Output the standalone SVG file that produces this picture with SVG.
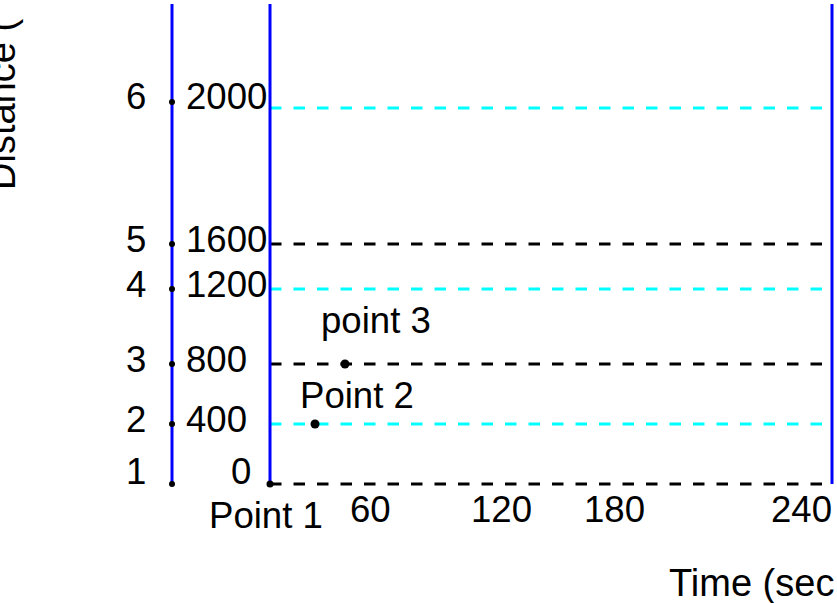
<svg xmlns="http://www.w3.org/2000/svg" width="837" height="603" viewBox="0 0 837 603">
<style>
text{font-family:"Liberation Sans",Arial,sans-serif;font-size:36.6px;fill:#000}
.ax{font-size:38px}
.blue{stroke:#0000ff;stroke-width:3;fill:none}
.dc{stroke:#00ffff;stroke-width:3;stroke-dasharray:11.5 12;fill:none}
.dk{stroke:#000;stroke-width:3;stroke-dasharray:11.5 12;fill:none}
.sd{fill:#000}
</style>
<rect width="837" height="603" fill="#fff"/>
<g id="connectors">
<line class="dc" x1="270" y1="108" x2="832" y2="108"/>
<line class="dk" x1="270" y1="244" x2="832" y2="244"/>
<line class="dc" x1="270" y1="289" x2="832" y2="289"/>
<line class="dk" x1="270" y1="364" x2="832" y2="364"/>
<line class="dc" x1="270" y1="424" x2="832" y2="424"/>
<line class="dk" x1="270" y1="484" x2="832" y2="484"/>
<line class="blue" x1="172" y1="4" x2="172" y2="484"/>
<line class="blue" x1="270" y1="4" x2="270" y2="484"/>
<line class="blue" x1="832" y1="4" x2="832" y2="484"/>
</g>
<g id="left-dots">
<circle class="sd" cx="172" cy="102" r="3"/>
<circle class="sd" cx="172" cy="244" r="3"/>
<circle class="sd" cx="172" cy="289" r="3"/>
<circle class="sd" cx="172" cy="364" r="3"/>
<circle class="sd" cx="172" cy="424" r="3"/>
<circle class="sd" cx="172" cy="484" r="3"/>
</g>
<g id="point1">
<circle class="sd" cx="270" cy="484" r="3.5"/>
<text x="209" y="528">Point 1</text>
</g>
<g id="point2">
<circle class="sd" cx="315" cy="424" r="4.5"/>
<text x="300" y="408">Point 2</text>
</g>
<g id="point3">
<circle class="sd" cx="345" cy="364" r="4.5"/>
<text x="321" y="333">point 3</text>
</g>
<g id="index-labels">
<text x="126" y="109">6</text>
<text x="126" y="252">5</text>
<text x="126" y="297">4</text>
<text x="126" y="372">3</text>
<text x="126" y="432">2</text>
<text x="126" y="484">1</text>
</g>
<g id="distance-labels">
<text x="186" y="109">2000</text>
<text x="186" y="252">1600</text>
<text x="186" y="297">1200</text>
<text x="186" y="372">800</text>
<text x="186" y="432">400</text>
<text x="231" y="484">0</text>
</g>
<g id="time-labels">
<text x="350" y="522">60</text>
<text x="471" y="522">120</text>
<text x="584" y="522">180</text>
<text x="771" y="522">240</text>
</g>
<g id="axis-labels">
<text class="ax" x="669" y="596">Time (sec</text>
<text class="ax" transform="translate(15,190) rotate(-90)">Distance (</text>
</g>
</svg>
